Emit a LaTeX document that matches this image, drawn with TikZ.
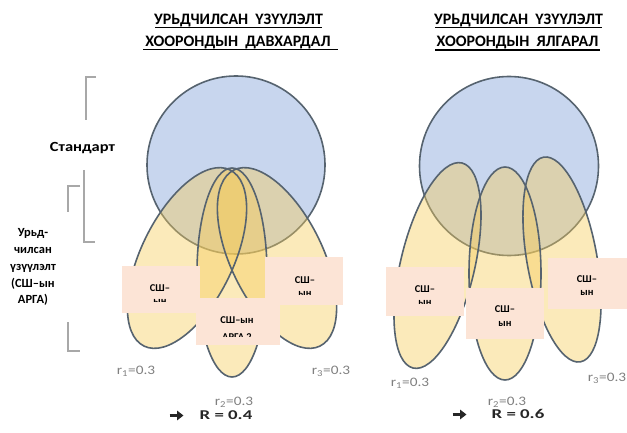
\documentclass[tikz,border=0pt]{standalone}
\usepackage{fontspec}
\usetikzlibrary{arrows.meta}
\setmainfont{Carlito}
\newfontfamily\wf{Carlito}[FakeStretch=1.18]
\newfontfamily\wfR{Carlito}[FakeStretch=1.4]
\definecolor{circfill}{HTML}{C8D6EE}
\definecolor{ellfill}{HTML}{F6CC5A}
\definecolor{edgec}{HTML}{56636F}
\definecolor{boxfill}{HTML}{FCE4D6}
\definecolor{brk}{HTML}{A8A8A8}
\definecolor{rgray}{HTML}{808080}
\begin{document}
\begin{tikzpicture}[x=1bp,y=-1bp,
  circ/.style={fill=circfill, draw=edgec, line width=1.6bp},
  ellf/.style={fill=ellfill, fill opacity=0.42},
  elld/.style={draw=edgec, line width=1.6bp},
  boxn/.style={fill=boxfill, inner sep=0pt, draw=none},
  boxt/.style={font=\fontsize{10.5}{12}\selectfont\bfseries, inner sep=0pt, text=black},
  titlet/.style={font=\fontsize{16}{18}\selectfont\bfseries, inner sep=0pt},
  sidet/.style={inner sep=0pt, align=center},
  rlab/.style={font=\wf\fontsize{13}{15}\selectfont, text=rgray, inner sep=0pt},
  Rlab/.style={font=\wfR\fontsize{13.5}{15}\selectfont\bfseries, text=black!85, inner sep=0pt},
  bigarrow/.style={draw=black!85, line width=3bp, -{Triangle[length=6.5bp, width=9.5bp]}},
  uline/.style={line width=1.5bp, draw=black},
  bracket/.style={draw=brk, line width=2.4bp}]
\useasboundingbox (0,0) rectangle (627,433);

% ---------- titles ----------
\node[titlet] (tl1) at (238.5,20) {УРЬДЧИЛСАН\ \ ҮЗҮҮЛЭЛТ};
\node[titlet] (tl2) at (238,42) {ХООРОНДЫН\ \ ДАВХАРДАЛ};
\node[titlet] (tr1) at (518.5,20) {УРЬДЧИЛСАН\ \ ҮЗҮҮЛЭЛТ};
\node[titlet] (tr2) at (517.5,42) {ХООРОНДЫН\ \ ЯЛГАРАЛ};
\coordinate (ul1a) at (155,27.5); \coordinate (ul1b) at (322,27.5);
\coordinate (ul2a) at (143,49.5); \coordinate (ul2b) at (338,49.5);
\coordinate (ur1a) at (435,27.5); \coordinate (ur1b) at (602,27.5);
\coordinate (ur2a) at (435,50); \coordinate (ur2b) at (600,50);
\draw[uline] (ul1a) -- (ul1b);
\draw[uline] (ul2a) -- (ul2b);
\draw[uline] (ur1a) -- (ur1b);
\draw[uline] (ur2a) -- (ur2b);

% ---------- side labels and brackets ----------
\node[sidet, font=\wf\fontsize{14}{16}\selectfont\bfseries] (std) at (82.5,148) {Стандарт};
\node[sidet, font=\fontsize{12.5}{17}\selectfont\bfseries] (pred) at (33,267) {Урьд-\\чилсан\\үзүүлэлт\\(СШ–ын\\АРГА)};
\draw[bracket] (96,77) -- (86,77) -- (86,120);
\draw[bracket] (84,170) -- (84,242) -- (95,242);
\draw[bracket] (80,186) -- (68,186) -- (68,212);
\draw[bracket] (68,322) -- (68,351) -- (80,351);

% ---------- left diagram ----------
\node[circle, circ, minimum size=178bp, inner sep=0pt] (cl) at (236,165) {};
\path[ellf, shift={(187,258)}, rotate=64] (0,0) ellipse [x radius=98, y radius=46];
\path[ellf, shift={(277,258)}, rotate=116] (0,0) ellipse [x radius=98, y radius=46];
\path[ellf, shift={(232,272.5)}] (0,0) ellipse [x radius=35, y radius=104.5];
\path[elld, shift={(187,258)}, rotate=64] (0,0) ellipse [x radius=98, y radius=46];
\path[elld, shift={(277,258)}, rotate=116] (0,0) ellipse [x radius=98, y radius=46];
\path[elld, shift={(232,272.5)}] (0,0) ellipse [x radius=35, y radius=104.5];

% ---------- right diagram ----------
\node[circle, circ, minimum size=179bp, inner sep=0pt] (cr) at (509,166) {};
\path[ellf, shift={(437.5,265.5)}, rotate=76.6] (0,0) ellipse [x radius=105.4, y radius=37];
\path[ellf, shift={(505,273.5)}] (0,0) ellipse [x radius=36, y radius=106.5];
\path[ellf, shift={(562,259.5)}, rotate=100.2] (0,0) ellipse [x radius=104, y radius=35];
\path[elld, shift={(437.5,265.5)}, rotate=76.6] (0,0) ellipse [x radius=105.4, y radius=37];
\path[elld, shift={(505,273.5)}] (0,0) ellipse [x radius=36, y radius=106.5];
\path[elld, shift={(562,259.5)}, rotate=100.2] (0,0) ellipse [x radius=104, y radius=35];

% ---------- boxes, left ----------
\node[boxn, minimum width=78bp, minimum height=47bp] (bl1) at (161,289.5) {};
\node[boxn, minimum width=78bp, minimum height=48bp] (bl2) at (304,281) {};
\node[boxn, minimum width=84bp, minimum height=47bp] (bl3) at (238,321.5) {};
\node[boxt] (bl1a) at (160,288) {СШ–};
\begin{scope}\clip (122,266) rectangle (200,301.8);
\node[boxt] (bl1b) at (160,302) {ын};\end{scope}
\node[boxt] (bl2a) at (305,280) {СШ–};
\begin{scope}\clip (265,257) rectangle (343,294);
\node[boxt] (bl2b) at (305,294) {ын};\end{scope}
\node[boxt] (bl3a) at (237,320) {СШ–ын};
\begin{scope}\clip (196,298) rectangle (280,336.5);
\node[boxt] (bl3b) at (237,337) {АРГА 2};\end{scope}

% ---------- boxes, right ----------
\node[boxn, minimum width=78bp, minimum height=49bp] (br1) at (425,291.5) {};
\node[boxn, minimum width=78bp, minimum height=51bp] (br2) at (505,313.5) {};
\node[boxn, minimum width=79bp, minimum height=51bp] (br3) at (587.5,283.5) {};
\node[boxt] (br1a) at (425,289) {СШ–};
\begin{scope}\clip (386,267) rectangle (464,303.5);
\node[boxt] (br1b) at (425,303) {ын};\end{scope}
\node[boxt] (br2a) at (505,309) {СШ–};
\node[boxt] (br2b) at (505,324) {ын};
\node[boxt] (br3a) at (587,279) {СШ–};
\node[boxt] (br3b) at (587,293) {ын};

% ---------- r labels ----------
\node[rlab] (rl1) at (136,371) {r\textsubscript{1}=0.3};
\node[rlab] (rl3) at (331,371) {r\textsubscript{3}=0.3};
\node[rlab] (rl2) at (234,402) {r\textsubscript{2}=0.3};
\coordinate (al1) at (169.5,415.5); \coordinate (al2) at (183.5,415.5);
\draw[bigarrow] (al1) -- (al2);
\node[Rlab] (Rl) at (226,415) {R = 0.4};
\node[rlab] (rr1) at (410,383) {r\textsubscript{1}=0.3};
\node[rlab] (rr3) at (607,378) {r\textsubscript{3}=0.3};
\node[rlab] (rr2) at (507,402) {r\textsubscript{2}=0.3};
\coordinate (ar1) at (452.5,414.5); \coordinate (ar2) at (466.5,414.5);
\draw[bigarrow] (ar1) -- (ar2);
\node[Rlab] (Rr) at (518,414) {R = 0.6};
\end{tikzpicture}
\end{document}
